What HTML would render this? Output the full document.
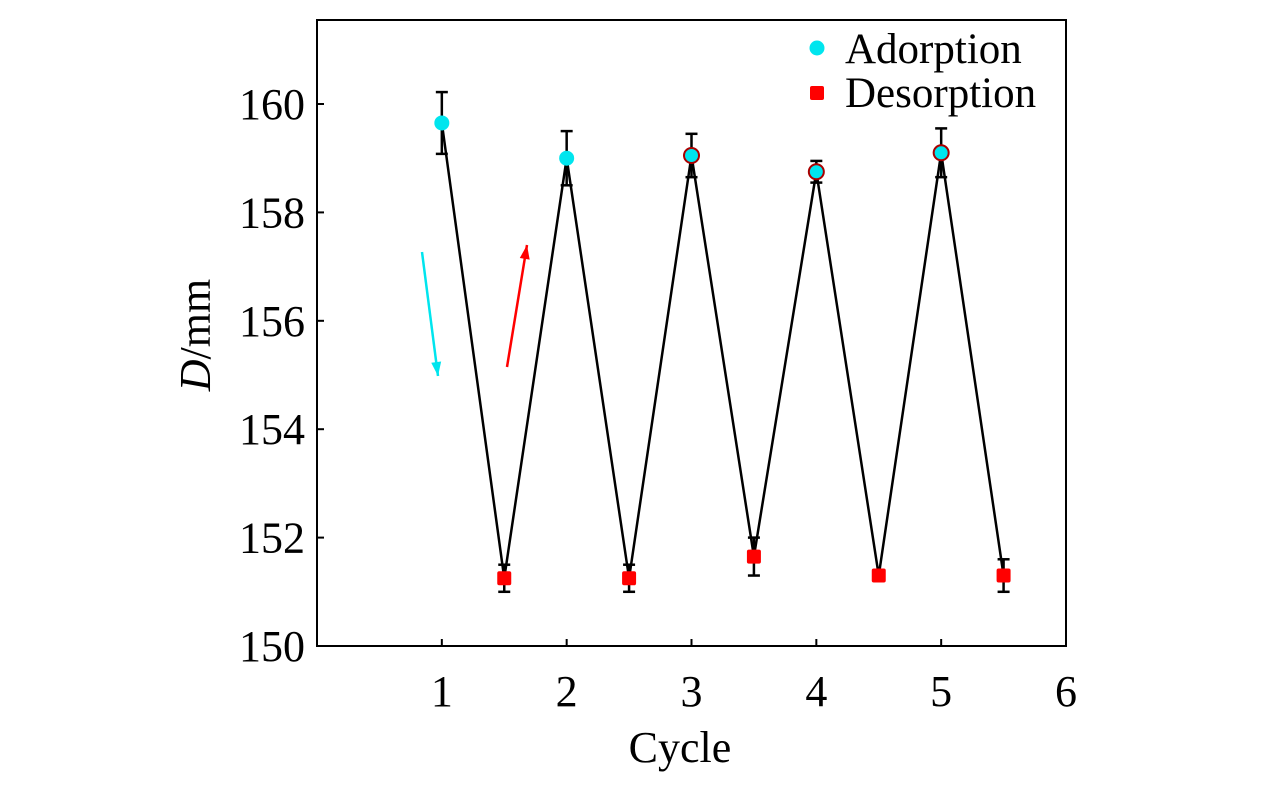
<!DOCTYPE html>
<html><head><meta charset="utf-8"><style>
body{margin:0;background:#fff}
svg{display:block;font-family:"Liberation Serif",serif}
</style></head><body>
<svg id="chart" width="1276" height="787" viewBox="0 0 1276 787">
<g id="plot"></g>
</svg>
<script>
const adsX=[1,2,3,4,5];
const adsY=[159.65,159.0,159.05,158.75,159.1];
const adsErr=[0.57,0.5,0.4,0.2,0.45];
const desX=[1.5,2.5,3.5,4.5,5.5];
const desY=[151.25,151.25,151.65,151.3,151.3];
const desErr=[0.25,0.25,0.35,0.07,0.3];
const xTicks=[1,2,3,4,5,6];
const yTicks=[150,152,154,156,158,160];

const L=317,R=1066,T=20,B=646;
const xMin=0,xMax=6,yMin=150,yMax=161.55;
const sx=v=>L+(v-xMin)/(xMax-xMin)*(R-L);
const sy=v=>B-(v-yMin)/(yMax-yMin)*(B-T);
const NS="http://www.w3.org/2000/svg";
const g=document.getElementById('plot');
function mk(tag,attrs,parent){const e=document.createElementNS(NS,tag);for(const k in attrs)e.setAttribute(k,attrs[k]);(parent||g).appendChild(e);return e;}

let fr=mk('rect',{x:L,y:T,width:R-L,height:B-T,fill:'none',stroke:'#000','stroke-width':2});



xTicks.forEach(v=>{
  mk('line',{x1:sx(v),x2:sx(v),y1:B,y2:B-7,stroke:'#000','stroke-width':2});
  const t=mk('text',{x:sx(v),y:B+60,'font-size':44,'text-anchor':'middle'});
  t.textContent=v;
  
  
});
yTicks.forEach(v=>{
  mk('line',{x1:L,x2:L+7,y1:sy(v),y2:sy(v),stroke:'#000','stroke-width':2});
  const t=mk('text',{x:L-12,y:sy(v)+15,'font-size':44,'text-anchor':'end'});
  t.textContent=v;
  
  
});

const xt=mk('text',{x:680,y:762,'font-size':44,'text-anchor':'middle'});
xt.textContent='Cycle';


const yt=mk('text',{x:0,y:0,'font-size':44,'text-anchor':'middle',transform:'translate(210,335) rotate(-90)'});
yt.innerHTML='<tspan font-style="italic">D</tspan>/mm';



const pts=[];
for(let i=0;i<adsX.length;i++){pts.push([adsX[i],adsY[i]]);pts.push([desX[i],desY[i]]);}
const ln=mk('polyline',{points:pts.map(p=>sx(p[0])+','+sy(p[1])).join(' '),fill:'none',stroke:'#000','stroke-width':2.5});



function err(x,y,e){
  const X=sx(x);
  mk('line',{x1:X,x2:X,y1:sy(y+e),y2:sy(y-e),stroke:'#000','stroke-width':2.5});
  mk('line',{x1:X-6,x2:X+6,y1:sy(y+e),y2:sy(y+e),stroke:'#000','stroke-width':2.5});
  mk('line',{x1:X-6,x2:X+6,y1:sy(y-e),y2:sy(y-e),stroke:'#000','stroke-width':2.5});
}
adsX.forEach((x,i)=>err(x,adsY[i],adsErr[i]));
desX.forEach((x,i)=>err(x,desY[i],desErr[i]));

adsX.forEach((x,i)=>{
  const c=mk('circle',{cx:sx(x),cy:sy(adsY[i]),r:7.5,fill:'#00e5ee',stroke:i>=2?'#a00':'none','stroke-width':2});
  
  
});
desX.forEach((x,i)=>{
  const r=mk('rect',{x:sx(x)-7,y:sy(desY[i])-7,width:14,height:14,rx:2,fill:'#f00'});
  
  
});

function arrow(x1,y1,x2,y2,col,name){
  const a=mk('g',{});
  
  
  mk('line',{x1,y1,x2,y2,stroke:col,'stroke-width':2.5},a);
  const ang=Math.atan2(y2-y1,x2-x1),l=14,w=5;
  const bx=x2-l*Math.cos(ang),by=y2-l*Math.sin(ang);
  const px=-Math.sin(ang)*w,py=Math.cos(ang)*w;
  mk('polygon',{points:`${x2},${y2} ${bx+px},${by+py} ${bx-px},${by-py}`,fill:col},a);
}
arrow(422,252,438,376,'#00e5ee','adsorption-arrow');
arrow(507,367,527,245,'#f00','desorption-arrow');

const lg=mk('g',{});


mk('circle',{cx:817,cy:48,r:7.5,fill:'#00e5ee'},lg);
const l1=mk('text',{x:845,y:63,'font-size':43},lg);l1.textContent='Adorption';


mk('rect',{x:810,y:86,width:14,height:14,rx:2,fill:'#f00'},lg);
const l2=mk('text',{x:845,y:107,'font-size':43},lg);l2.textContent='Desorption';


</script>
</body></html>
